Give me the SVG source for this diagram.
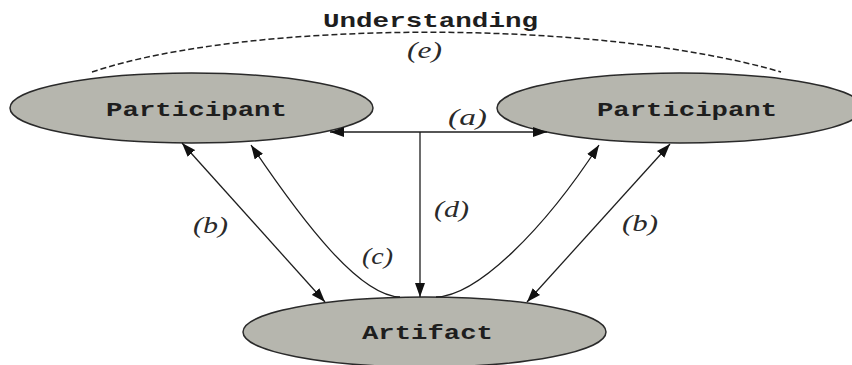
<svg xmlns="http://www.w3.org/2000/svg" width="852" height="365" viewBox="0 0 852 365">
<style>
.node ellipse{fill:#b6b6ae;stroke:#2a2a2a;stroke-width:1.5}
.mono{font-family:"Liberation Mono","Courier New",monospace;font-weight:bold;font-size:21px;fill:#1e1e1e}
.lbl{font-family:"Liberation Serif","Times New Roman",serif;font-style:italic;font-size:23px;fill:#2a2a2a}
.edge{fill:none;stroke:#1e1e1e;stroke-width:1.3}
.dash{fill:none;stroke:#222;stroke-width:1.5;stroke-dasharray:6 3}
</style>
<defs>
<marker id="ah" viewBox="0 0 14 10" refX="14" refY="5" markerWidth="14" markerHeight="10" markerUnits="userSpaceOnUse" orient="auto-start-reverse">
<path d="M0,0 L14,5 L0,10 Z" fill="#111"/>
</marker>
</defs>
<rect width="852" height="365" fill="#fff"/>
<g id="understanding">
<path class="dash" d="M92,72 C250,19 600,19 781,72"/>
<text class="mono" x="323" y="27" textLength="215" lengthAdjust="spacingAndGlyphs">Understanding</text>
</g>
<g id="participant-left" class="node">
<ellipse cx="191.5" cy="108" rx="181.5" ry="35"/>
<text class="mono" x="106" y="116" textLength="181" lengthAdjust="spacingAndGlyphs">Participant</text>
</g>
<g id="participant-right" class="node">
<ellipse cx="680" cy="108" rx="183" ry="35"/>
<text class="mono" x="597" y="116" textLength="180" lengthAdjust="spacingAndGlyphs">Participant</text>
</g>
<g id="artifact" class="node">
<ellipse cx="424.5" cy="332" rx="181.5" ry="35"/>
<text class="mono" x="362" y="339" textLength="131" lengthAdjust="spacingAndGlyphs">Artifact</text>
</g>
<g id="connectors">
<line class="edge" x1="330" y1="132" x2="547" y2="132" marker-start="url(#ah)" marker-end="url(#ah)"/>
<line class="edge" x1="420" y1="132" x2="420" y2="297" marker-end="url(#ah)"/>
<line class="edge" x1="182" y1="143" x2="325" y2="302" marker-start="url(#ah)" marker-end="url(#ah)"/>
<line class="edge" x1="670" y1="144" x2="527" y2="302" marker-start="url(#ah)" marker-end="url(#ah)"/>
<path class="edge" d="M400,297 C360,296 305,225 251,145" marker-end="url(#ah)"/>
<path class="edge" d="M436,297 C478,296 545,228 599,145" marker-end="url(#ah)"/>
</g>
<g id="labels">
<text class="lbl" x="407" y="58" textLength="35" lengthAdjust="spacingAndGlyphs">(e)</text>
<text class="lbl" x="448" y="125" textLength="39" lengthAdjust="spacingAndGlyphs">(a)</text>
<text class="lbl" x="434" y="217" textLength="35" lengthAdjust="spacingAndGlyphs">(d)</text>
<text class="lbl" x="193" y="233" textLength="35" lengthAdjust="spacingAndGlyphs">(b)</text>
<text class="lbl" x="362" y="264" textLength="31" lengthAdjust="spacingAndGlyphs">(c)</text>
<text class="lbl" x="622" y="231" textLength="36" lengthAdjust="spacingAndGlyphs">(b)</text>
</g>
</svg>
